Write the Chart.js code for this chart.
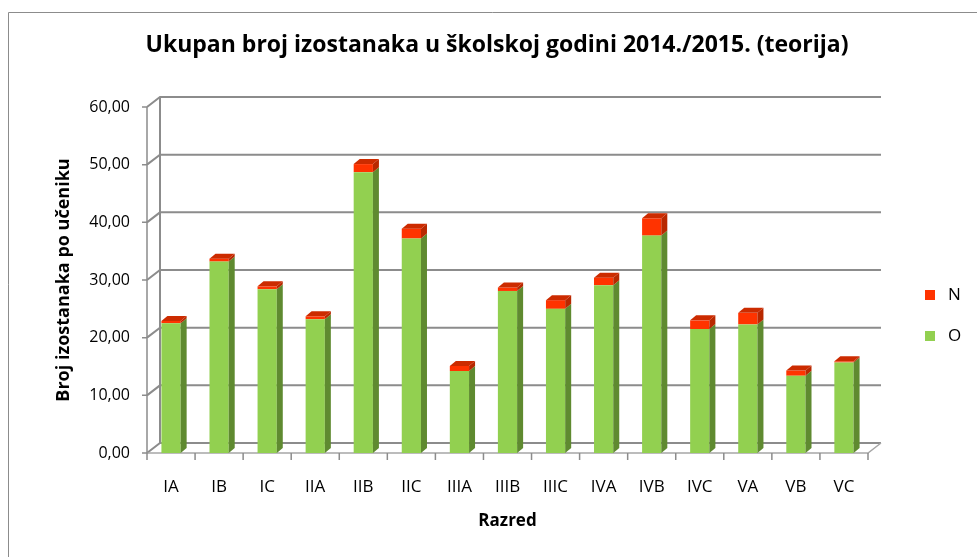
<!DOCTYPE html>
<html>
<head>
<meta charset="utf-8">
<title>Ukupan broj izostanaka</title>
<script src="https://cdn.jsdelivr.net/npm/chart.js@4/dist/chart.umd.min.js"></script>
<style>
    html, body { margin: 0; padding: 0; background: #fff; }
    #wrap { width: 977px; height: 557px; position: relative; }
</style>
</head>
<body>
<div id="wrap"><canvas id="nc-chart" width="977" height="557"></canvas></div>
<script>
// Data
var naslov = 'Ukupan broj izostanaka u školskoj godini 2014./2015. (teorija)';
var razredi = ['IA', 'IB', 'IC', 'IIA', 'IIB', 'IIC', 'IIIA', 'IIIB', 'IIIC', 'IVA', 'IVB', 'IVC', 'VA', 'VB', 'VC'];
var opravdani = [22.5, 33.2, 28.4, 23.2, 48.7, 37.2, 14.2, 28.1, 25.0, 29.1, 37.7, 21.5, 22.3, 13.4, 15.7];
var neopravdani = [0.4, 0.5, 0.5, 0.5, 1.4, 1.7, 0.9, 0.6, 1.5, 1.3, 3.0, 1.5, 2.0, 0.9, 0.2];
var yTicks = [0, 10, 20, 30, 40, 50, 60];

(function() {
    'use strict';

    var FONT = "'Open Sans', sans-serif";
    var GREEN = '#92D050', GREEN_SIDE = '#5F8A30';
    var RED = '#FF3300', RED_SIDE = '#B82800', RED_TOP = '#CC2B00';
    var DX = 6, DY = 5;          // bar depth
    var WX = 13, WY = 10;        // back wall offset

    function fmt(v) {
        return v.toFixed(2).replace('.', ',');
    }

    // Walls, floor and gridlines drawn behind the bars
    var wallPlugin = {
        id: 'walls',
        beforeDatasetsDraw: function(chart) {
            var ctx = chart.ctx, area = chart.chartArea;
            var y = chart.scales.y;
            ctx.save();
            ctx.strokeStyle = '#8c8c8c';
            ctx.lineWidth = 2;
            yTicks.forEach(function(t) {
                var py = y.getPixelForValue(t);
                ctx.beginPath();
                ctx.moveTo(area.left, py);
                ctx.lineTo(area.left + WX, py - WY);
                ctx.lineTo(area.right + WX, py - WY);
                ctx.stroke();
            });
            // back wall left edge
            ctx.beginPath();
            ctx.moveTo(area.left + WX, area.top - WY);
            ctx.lineTo(area.left + WX, area.bottom - WY);
            ctx.stroke();
            // floor
            ctx.lineWidth = 1.5;
            ctx.strokeStyle = '#a6a6a6';
            ctx.beginPath();
            ctx.moveTo(area.left, area.bottom);
            ctx.lineTo(area.right, area.bottom);
            ctx.lineTo(area.right + WX, area.bottom - WY);
            ctx.stroke();
            // front axis line and ticks
            ctx.strokeStyle = '#8c8c8c';
            ctx.beginPath();
            ctx.moveTo(area.left, area.top);
            ctx.lineTo(area.left, area.bottom);
            yTicks.forEach(function(t) {
                var py = y.getPixelForValue(t);
                ctx.moveTo(area.left - 5, py);
                ctx.lineTo(area.left, py);
            });
            for (var i = 0; i <= razredi.length; i++) {
                var px = area.left + (area.right - area.left) * i / razredi.length;
                ctx.moveTo(px, area.bottom);
                ctx.lineTo(px, area.bottom + 7);
            }
            ctx.stroke();
            ctx.restore();
        }
    };

    // Side and top faces of the columns
    var depthPlugin = {
        id: 'depth',
        afterDatasetsDraw: function(chart) {
            var ctx = chart.ctx;
            var n = chart.data.datasets.length;
            ctx.save();
            chart.data.datasets.forEach(function(ds, di) {
                var meta = chart.getDatasetMeta(di);
                meta.data.forEach(function(bar) {
                    var p = bar.getProps(['x', 'y', 'base', 'width'], true);
                    var l = p.x - p.width / 2, r = p.x + p.width / 2;
                    var top = Math.min(p.y, p.base), bot = Math.max(p.y, p.base);
                    ctx.fillStyle = ds.sideColor;
                    ctx.beginPath();
                    ctx.moveTo(r, top);
                    ctx.lineTo(r + DX, top - DY);
                    ctx.lineTo(r + DX, bot - DY);
                    ctx.lineTo(r, bot);
                    ctx.closePath();
                    ctx.fill();
                    if (di === n - 1) {
                        ctx.fillStyle = ds.topColor;
                        ctx.beginPath();
                        ctx.moveTo(l, top);
                        ctx.lineTo(l + DX, top - DY);
                        ctx.lineTo(r + DX, top - DY);
                        ctx.lineTo(r, top);
                        ctx.closePath();
                        ctx.fill();
                    }
                });
            });
            ctx.restore();
        }
    };

    // Frame, title and legend
    var framePlugin = {
        id: 'frame',
        afterDraw: function(chart) {
            var ctx = chart.ctx;
            ctx.save();
            ctx.strokeStyle = '#8c8c8c';
            ctx.lineWidth = 1;
            ctx.beginPath();
            ctx.moveTo(8.5, 557);
            ctx.lineTo(8.5, 12.5);
            ctx.lineTo(977, 12.5);
            ctx.stroke();

            ctx.fillStyle = '#000';
            ctx.font = 'bold 23px ' + FONT;
            ctx.textAlign = 'center';
            ctx.textBaseline = 'middle';
            ctx.fillText(naslov, 497, 45);

            var items = [
                { label: 'N', color: RED, y: 295 },
                { label: 'O', color: GREEN, y: 336 }
            ];
            ctx.font = '17px ' + FONT;
            ctx.textAlign = 'left';
            items.forEach(function(it) {
                ctx.fillStyle = it.color;
                ctx.fillRect(925, it.y - 5, 10, 10);
                ctx.fillStyle = '#000';
                ctx.fillText(it.label, 948, it.y);
            });
            ctx.restore();
        }
    };

    var ctx = document.getElementById('nc-chart').getContext('2d');
    new Chart(ctx, {
        type: 'bar',
        data: {
            labels: razredi,
            datasets: [{
                label: 'O',
                data: opravdani,
                backgroundColor: GREEN,
                sideColor: GREEN_SIDE,
                topColor: GREEN,
                barPercentage: 0.8,
                categoryPercentage: 0.5
            }, {
                label: 'N',
                data: neopravdani,
                backgroundColor: RED,
                sideColor: RED_SIDE,
                topColor: RED_TOP,
                barPercentage: 0.8,
                categoryPercentage: 0.5
            }]
        },
        options: {
            responsive: false,
            animation: false,
            layout: { padding: { left: 0, right: 109, top: 107, bottom: 0 } },
            plugins: {
                legend: { display: false },
                tooltip: { enabled: false },
                title: { display: false }
            },
            scales: {
                x: {
                    stacked: true,
                    grid: { display: false, drawTicks: false },
                    border: { display: false },
                    ticks: { color: '#000', padding: 24, font: { family: FONT, size: 17 } },
                    title: {
                        display: true,
                        text: 'Razred',
                        color: '#000',
                        font: { family: FONT, size: 17, weight: 'bold' },
                        padding: { top: 0, bottom: 26 }
                    },
                    afterFit: function(scale) { scale.height = 104; }
                },
                y: {
                    stacked: true,
                    min: 0,
                    max: 60,
                    grid: { display: false, drawTicks: false },
                    border: { display: false },
                    ticks: {
                        stepSize: 10,
                        color: '#000',
                        padding: 17,
                        font: { family: FONT, size: 16 },
                        callback: function(v) { return fmt(v); }
                    },
                    title: {
                        display: true,
                        text: 'Broj izostanaka po učeniku',
                        color: '#000',
                        font: { family: FONT, size: 18, weight: 'bold' },
                        padding: { top: 53, bottom: 0 }
                    },
                    afterFit: function(scale) { scale.width = 147; }
                }
            }
        },
        plugins: [wallPlugin, depthPlugin, framePlugin]
    });
})();
</script>
</body>
</html>
